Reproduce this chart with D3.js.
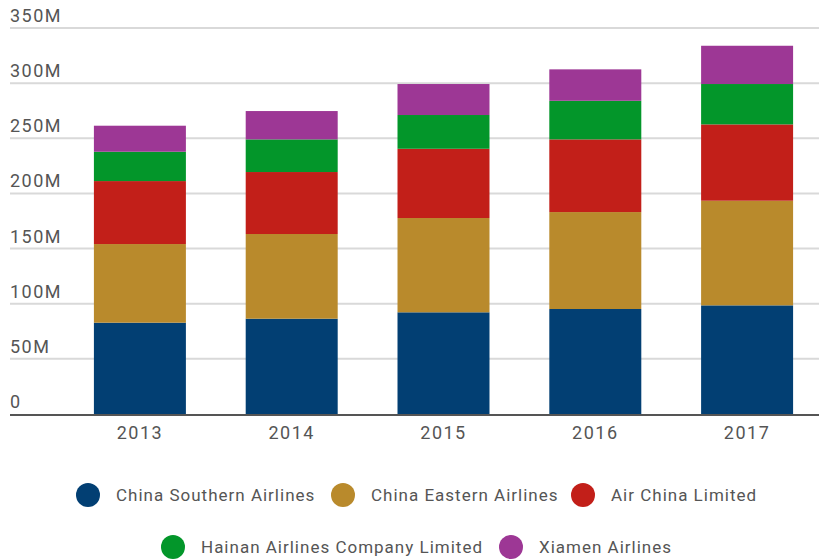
<!DOCTYPE html>
<html><head><meta charset="utf-8">
<script src="https://cdn.jsdelivr.net/npm/d3@7/dist/d3.min.js"></script>
<style>
html,body{margin:0;padding:0;background:#fff;}
text{font-family:Roboto,"Noto Sans",sans-serif;}
</style></head>
<body>
<svg id="chart" width="819" height="560"></svg>
<script>
const years = ["2013","2014","2015","2016","2017"];
const seriesNames = ["China Southern Airlines","China Eastern Airlines","Air China Limited","Hainan Airlines Company Limited","Xiamen Airlines"];
const seriesColors = ["#023f73","#b98a2c","#c21f19","#03962a","#9d3795"];
const chinaSouthern = [82.8, 86.4, 92.2, 95.2, 98.5];
const chinaEastern = [71.3, 76.8, 85.5, 87.9, 94.9];
const airChina = [57.1, 56.2, 62.8, 65.9, 69.2];
const hainan = [26.6, 29.6, 30.6, 35.0, 36.6];
const xiamen = [23.6, 25.7, 28.1, 28.5, 34.7];
const yTicks = [0, 50, 100, 150, 200, 250, 300, 350];
const yTickLabels = ["0","50M","100M","150M","200M","250M","300M","350M"];

const seriesValues = [chinaSouthern, chinaEastern, airChina, hainan, xiamen];
const table = years.map((y, i) => {
  const row = {year: y};
  seriesNames.forEach((s, j) => row[s] = seriesValues[j][i]);
  return row;
});
const stacked = d3.stack().keys(seriesNames)(table);

const svg = d3.select("#chart");
const y = d3.scaleLinear().domain([0, 350]).range([414, 28]);
const x = d3.scaleBand().domain(years).range([64, 823]).paddingInner(0.394).paddingOuter(0.197);
const color = d3.scaleOrdinal().domain(seriesNames).range(seriesColors);

// gridlines
const grid = svg.append("g");
grid.selectAll("line").data(yTicks.filter(d => d > 0)).join("line")
  .attr("x1", 10).attr("x2", 819)
  .attr("y1", d => y(d)).attr("y2", d => y(d))
  .attr("stroke", "#d9d9d9").attr("stroke-width", 2);
grid.selectAll("text").data(yTicks).join("text")
  .attr("x", 10).attr("y", d => y(d) - 6)
  .attr("font-size", 18).attr("letter-spacing", 1.5).attr("fill", "#555")
  .text((d, i) => yTickLabels[i]);

// bars
svg.append("g").selectAll("g").data(stacked).join("g")
  .attr("fill", d => color(d.key))
  .selectAll("rect").data(d => d).join("rect")
  .attr("x", d => x(d.data.year))
  .attr("width", x.bandwidth())
  .attr("y", d => y(d[1]))
  .attr("height", d => y(d[0]) - y(d[1]));

// baseline
svg.append("line").attr("x1", 10).attr("x2", 819)
  .attr("y1", y(0) + 1).attr("y2", y(0) + 1)
  .attr("stroke", "#555").attr("stroke-width", 2);

// x labels
const xAxis = svg.append("g").attr("transform", `translate(0,${y(0)})`)
  .call(d3.axisBottom(x).tickSize(0).tickPadding(12));
xAxis.select(".domain").remove();
xAxis.selectAll("text").attr("font-size", 18).attr("letter-spacing", 1.5).attr("fill", "#555")
  .attr("font-family", "Roboto, sans-serif");

// legend
const legendRows = [
  {items: [0, 1, 2], y: 495, xs: [88, 343, 583]},
  {items: [3, 4], y: 547, xs: [173, 511]}
];
legendRows.forEach(row => {
  const g = svg.append("g");
  row.items.forEach((idx, k) => {
    g.append("circle").attr("cx", row.xs[k]).attr("cy", row.y).attr("r", 12)
      .attr("fill", seriesColors[idx]);
    g.append("text").attr("x", row.xs[k] + 28).attr("y", row.y).attr("dy", "0.35em")
      .attr("font-size", 17).attr("letter-spacing", 1).attr("fill", "#555").text(seriesNames[idx]);
  });
});
</script>
</body></html>
